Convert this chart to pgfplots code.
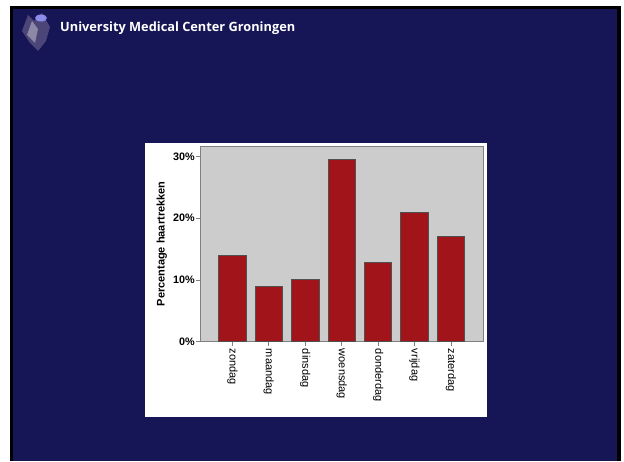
\documentclass[border=0pt]{standalone}
\usepackage{pgfplots}
\pgfplotsset{compat=1.18}
\usepackage{fontspec}
\setmainfont{Liberation Sans}
\newfontfamily\titlefont{Open Sans}
\definecolor{navy}{RGB}{22,21,86}
\definecolor{plotgray}{RGB}{204,204,204}
\definecolor{barred}{RGB}{160,20,26}
\definecolor{bargray}{RGB}{80,80,80}
\definecolor{framegray}{RGB}{128,128,128}
\definecolor{lavender}{RGB}{140,130,160}
\begin{document}
\begin{tikzpicture}[x=1pt,y=1pt]
\useasboundingbox (0,0) rectangle (624,461);
\fill[white] (0,0) rectangle (624,461);
\fill[black] (10,0) rectangle (621,455);
\fill[navy] (13,0) rectangle (617,452);
% logo (approximate)
\fill[lavender, opacity=0.45] (22,430) -- (28,446) -- (34,440) -- (42,448) -- (50,434) -- (46,420) -- (38,410) -- (30,418) -- cycle;
\fill[lavender!60!white, opacity=0.6] (27,426) -- (32,440) -- (38,432) -- (35,418) -- cycle;
\fill[white!60!blue, opacity=0.85] (41,443) ellipse (6 and 3.5);
\node[anchor=west, text=white, inner sep=0pt] at (60,433.2) {\resizebox{235pt}{!}{\titlefont\bfseries University Medical Center Groningen}};
\fill[white] (145,44) rectangle (487,318);
\begin{axis}[
  at={(200pt,119.3pt)}, anchor=south west,
  scale only axis, width=283pt, height=195.7pt,
  xmin=-0.89, xmax=6.88, ymin=0, ymax=31.7,
  axis background/.style={fill=plotgray},
  axis line style={draw=framegray, line width=0.9pt},
  ybar, bar width=27.3pt,
  xtick={0,1,2,3,4,5,6},
  xticklabels={zondag,maandag,dinsdag,woensdag,donderdag,vrijdag,zaterdag},
  ytick={0,10,20,30},
  yticklabels={0\%,10\%,20\%,30\%},
  tick align=outside, major tick length=4pt,
  xtick pos=bottom, ytick pos=left,
  tick style={draw=framegray, line width=0.7pt},
  yticklabel style={font=\fontsize{10.8}{12}\selectfont\bfseries, inner sep=1pt},
  xticklabel shift=2pt,
  xticklabel style={rotate=-90, anchor=west, font=\fontsize{11}{12}\selectfont, inner sep=1pt},
  ylabel={Percentage haartrekken},
  ylabel style={font=\fontsize{11}{13}\selectfont\bfseries, at={(axis description cs:-0.135,0.5)}, anchor=center},
]
\addplot[fill=barred, draw=bargray, line width=0.8pt] coordinates {(0,14.0) (1,9.0) (2,10.05) (3,29.45) (4,12.8) (5,21.0) (6,17.1)};
\end{axis}
\end{tikzpicture}
\end{document}
